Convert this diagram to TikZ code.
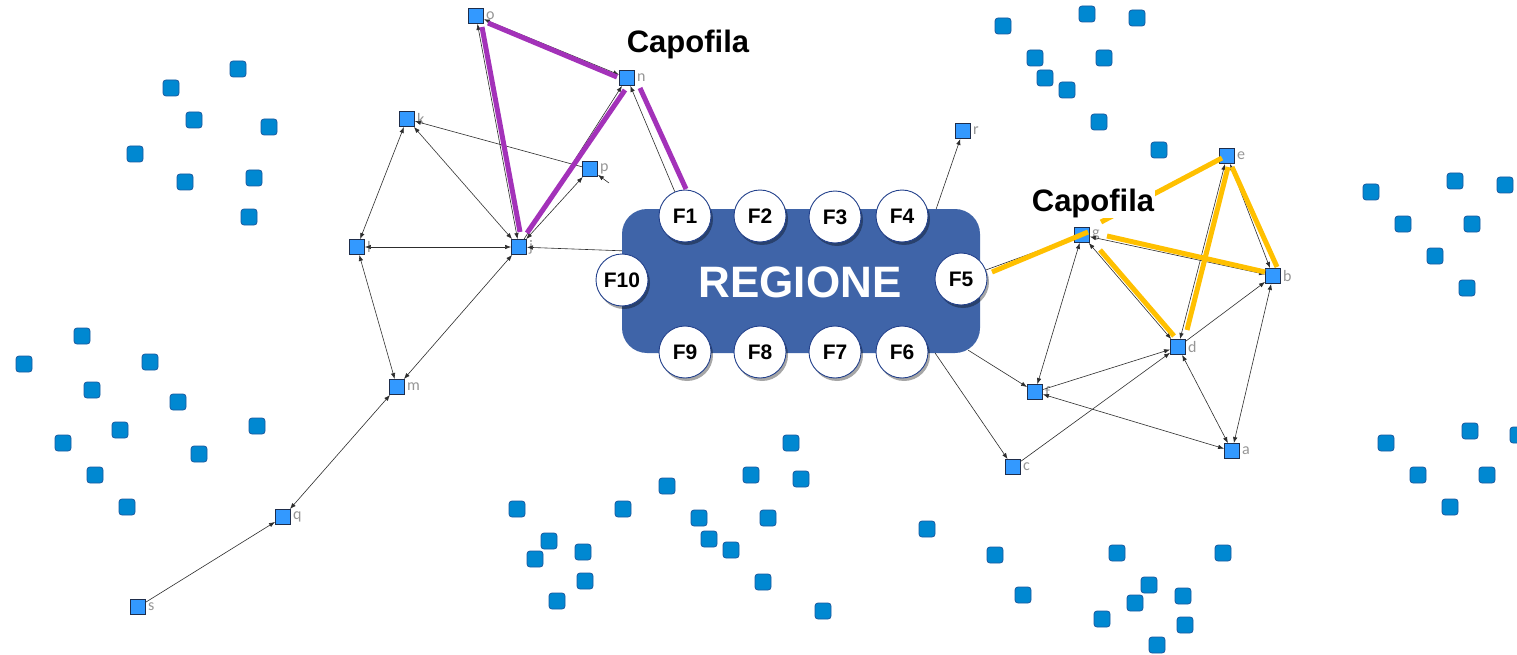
\documentclass[tikz,border=0pt]{standalone}
\usepackage{fontspec}
\setmainfont{Liberation Sans}
\newfontfamily\lblfont{Carlito}
\usetikzlibrary{arrows.meta,shadows}
\definecolor{scat}{RGB}{0,136,209}
\definecolor{scatb}{RGB}{25,90,160}
\definecolor{nodefill}{RGB}{51,153,255}
\definecolor{nodeb}{RGB}{30,45,75}
\definecolor{regfill}{RGB}{63,100,168}
\definecolor{circb}{RGB}{35,65,140}
\definecolor{purp}{RGB}{163,50,185}
\definecolor{yell}{RGB}{255,192,0}
\definecolor{lbl}{RGB}{150,150,150}
\definecolor{edgec}{RGB}{45,45,45}
\begin{document}
\begin{tikzpicture}[x=1pt,y=-1pt,
  >={Latex[length=6pt,width=4.5pt]},
  scatter/.style={draw=scatb,fill=scat,rounded corners=3pt,minimum size=16pt,inner sep=0pt,line width=0.8pt},
  lblsty/.style={text=lbl,font=\lblfont\fontsize{16}{16}\selectfont,inner sep=0pt,label distance=2pt},
  netnode/.style={draw=nodeb,fill=nodefill,minimum size=15pt,inner sep=0pt,line width=0.9pt,label={[lblsty]right:#1}},
  regbox/.style={fill=regfill,rounded corners=25pt,minimum width=358pt,minimum height=144pt,inner sep=0pt},
  fcirc/.style={circle,fill=white,draw=circb,line width=0.9pt,minimum size=52pt,inner sep=0pt,
    font=\bfseries\fontsize{21}{21}\selectfont,
    drop shadow={shadow xshift=2pt,shadow yshift=-3pt,fill=black,opacity=0.35}},
  thinedge/.style={draw=edgec,line width=0.6pt},
  purpline/.style={draw=purp,line width=5pt},
  yellline/.style={draw=yell,line width=5pt},
  capo/.style={font=\bfseries\fontsize{31}{31}\selectfont,fill=white,inner sep=1pt}
]
\useasboundingbox (0,0) rectangle (1517,655);
\fill[white] (0,0) rectangle (1517,655);

% scattered squares
\foreach \pt [count=\i] in {(238,69),(171,88),(194,120),(269,127),(135,154),(185,182),(254,178),(249,217),
  (82,336),(24,364),(150,362),(92,390),(178,402),(120,430),(257,426),(63,443),(199,454),(95,475),(127,507),
  (791,443),(751,475),(801,479),(667,486),(517,509),(623,509),(699,518),(768,518),(549,541),(709,539),(583,552),(535,559),(731,550),(585,581),(763,582),(557,601),(823,611),
  (927,529),(995,555),(1117,553),(1223,553),(1149,585),(1023,595),(1135,603),(1183,596),(1102,619),(1185,625),(1157,645),
  (1003,26),(1087,14),(1137,18),(1035,58),(1104,58),(1045,78),(1067,90),(1099,122),(1159,150),
  (1371,192),(1455,181),(1505,185),(1403,224),(1472,224),(1435,256),(1467,288),(1386,443),(1470,431),(1518,435),(1418,475),(1487,475),(1450,507)}
  \node[scatter] (sc\i) at \pt {};

% region box and circles
\node[regbox] (reg) at (801,281) {};
\node[text=white,font=\bfseries\fontsize{44}{44}\selectfont,inner sep=0pt] (regt) at (800,282) {REGIONE};
\node[fcirc] (F1) at (685,216) {F1};
\node[fcirc] (F2) at (760,216) {F2};
\node[fcirc] (F3) at (835,217) {F3};
\node[fcirc] (F4) at (902,216) {F4};
\node[fcirc] (F5) at (961,279) {F5};
\node[fcirc] (F6) at (902,352) {F6};
\node[fcirc] (F7) at (835,352) {F7};
\node[fcirc] (F8) at (760,352) {F8};
\node[fcirc] (F9) at (685,352) {F9};
\node[fcirc] (F10) at (622,280) {F10};

% network nodes
\node[netnode=o] (o) at (476,16) {};
\node[netnode=n] (n) at (627,78) {};
\node[netnode=k] (k) at (407,119) {};
\node[netnode=p] (p) at (590,169) {};
\node[netnode=l] (l) at (357,247) {};
\node[netnode=j] (j) at (519,247) {};
\node[netnode=m] (m) at (397,387) {};
\node[netnode=q] (q) at (283,517) {};
\node[netnode=s] (s) at (138,607) {};
\node[netnode=r] (r) at (963,131) {};
\node[netnode=e] (e) at (1227,156) {};
\node[netnode=g] (g) at (1082,235) {};
\node[netnode=b] (b) at (1273,276) {};
\node[netnode=d] (d) at (1178,347) {};
\node[netnode=f] (f) at (1035,392) {};
\node[netnode=a] (a) at (1232,451) {};
\node[netnode=c] (c) at (1013,467) {};

\coordinate (pstub) at (609,183);
\coordinate (boxw) at ([shift={(0,42)}]reg.north west);
\coordinate (boxn) at ([shift={(-44,0)}]reg.north east);
\coordinate (boxse) at ([shift={(-12,-3)}]reg.south east);
\coordinate (boxs) at ([shift={(-45,0)}]reg.south east);

% thin edges
\begin{scope}[thinedge]
\draw[<->] (o) -- (j);
\draw[<->] (o) -- (n);
\draw[<-] (n) -- (j);
\draw[<-] (n) -- (F1);
\draw[<->] (k) -- (l);
\draw[<->] (k) -- (j);
\draw[<-] (k) -- (p);
\draw[<->] (p) -- (j);
\draw[<-] (p) -- (pstub);
\draw[<->] (l) -- (j);
\draw[<->] (l) -- (m);
\draw[<->] (m) -- (j);
\draw[<->] (q) -- (m);
\draw[->] (s) -- (q);
\draw[<-] (j) -- (boxw);
\draw (F5) -- (g);
\draw[<->] (g) -- (f);
\draw[<->] (g) -- (b);
\draw[<->] (g) -- (d);
\draw[<->] (e) -- (d);
\draw[<->] (e) -- (b);
\draw[->] (f) -- (d);
\draw[->] (c) -- (d);
\draw[->] (d) -- (b);
\draw[<->] (d) -- (a);
\draw[<->] (b) -- (a);
\draw[<->] (f) -- (a);
\draw[->] (boxse) -- (f);
\draw[->] (boxs) -- (c);
\draw[->] (boxn) -- (r);
\end{scope}

% thick highlighted edges
\draw[purpline] ([shift={(12,7)}]o.center) -- ([shift={(-10,-1)}]n.center);
\draw[purpline] ([shift={(6,11)}]o.center) -- ([shift={(1,-15)}]j.center);
\draw[purpline] ([shift={(-2,12)}]n.center) -- ([shift={(8,-14)}]j.center);
\draw[purpline] ([shift={(13,10)}]n.center) -- ([shift={(1,-27)}]F1.center);

\draw[yellline] ([shift={(31,-7)}]F5.center) -- ([shift={(6,-3)}]g.center);
\draw[yellline] ([shift={(19,-13)}]g.center) -- ([shift={(-5,2)}]e.center);
\draw[yellline] ([shift={(25,1)}]g.center) -- ([shift={(-8,-4)}]b.center);
\draw[yellline] ([shift={(18,15)}]g.center) -- ([shift={(-4,-11)}]d.center);
\draw[yellline] ([shift={(1,11)}]e.center) -- ([shift={(9,-17)}]d.center);
\draw[yellline] ([shift={(5,11)}]e.center) -- ([shift={(4,-9)}]b.center);

% labels
\node[capo] (cap1) at (688,44) {Capofila};
\node[capo] (cap2) at (1093,203) {Capofila};
\end{tikzpicture}
\end{document}
